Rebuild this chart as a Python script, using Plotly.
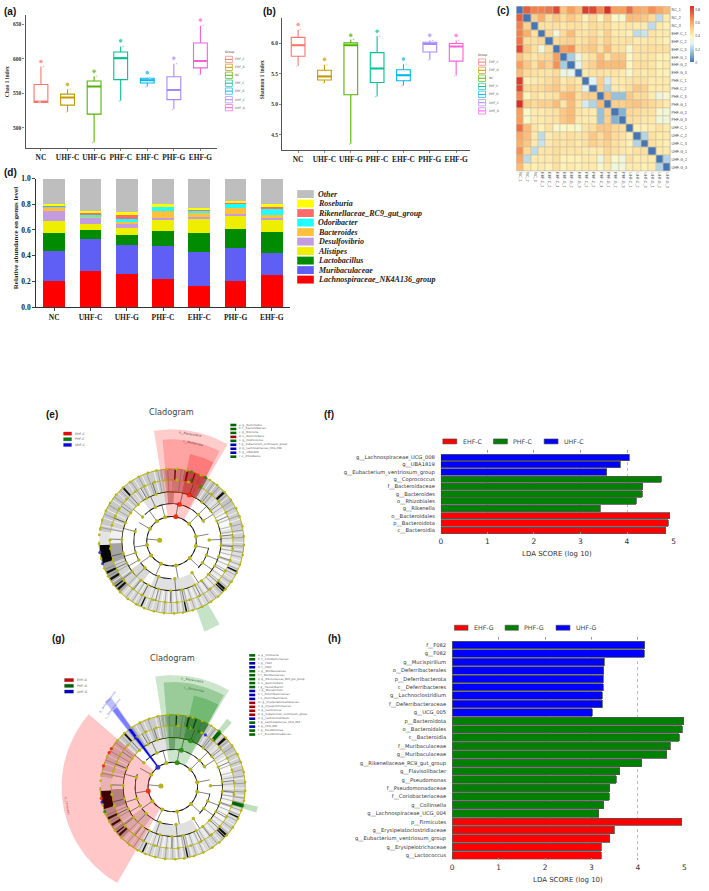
import math
import plotly.graph_objects as go

W, H = 709, 891

# ---------- data ----------
box_groups = ["NC", "UHF-C", "UHF-G", "PHF-C", "EHF-C", "PHF-G", "EHF-G"]
box_colors = ["#F8766D", "#C49A00", "#53B400", "#00C094", "#00B6EB", "#A58AFF", "#FB61D7"]
legend_groups = ["EHF_C", "EHF_G", "NC", "PHF_C", "PHF_G", "UHF_C", "UHF_G"]

chao_q1 = [537, 533, 520, 570, 565, 541, 587]
chao_med = [538, 544, 560, 601, 569, 555, 597]
chao_q3 = [563, 549, 568, 610, 572, 574, 623]
chao_low = [537, 523, 479, 539, 560, 527, 577]
chao_high = [589, 556, 575, 618, 573, 593, 648]
chao_pt = [596, 563, 582, 626, 580, 601, 656]

shan_q1 = [5.79, 5.40, 5.16, 5.36, 5.39, 5.86, 5.71]
shan_med = [5.97, 5.46, 5.97, 5.59, 5.48, 5.99, 5.95]
shan_q3 = [6.10, 5.56, 6.01, 5.85, 5.57, 6.02, 6.00]
shan_low = [5.63, 5.35, 4.35, 5.13, 5.31, 5.73, 5.47]
shan_high = [6.23, 5.65, 6.065, 6.12, 5.66, 6.05, 6.05]
shan_pt = [6.31, 5.74, 6.135, 6.20, 5.745, 6.135, 6.13]

heat_labels = ["NC_1", "NC_2", "NC_3", "EHF-C_1", "EHF-C_2", "EHF-C_3", "EHF-G_1", "EHF-G_2", "EHF-G_3",
               "PHF-C_1", "PHF-C_2", "PHF-C_3", "PHF-G_1", "PHF-G_2", "PHF-G_3",
               "UHF-C_1", "UHF-C_2", "UHF-C_3", "UHF-G_1", "UHF-G_2", "UHF-G_3"]
heat_z = [
    [0, .75, .68, .68, .70, .80, .53, .62, .55, .82, .80, .66, .85, .62, .62, .72, .60, .58, .65, .60, .55],
    [.75, 0, .50, .58, .46, .52, .46, .52, .47, .40, .47, .38, .50, .36, .36, .55, .54, .52, .47, .22, .42],
    [.68, .50, 0, .45, .45, .45, .43, .45, .45, .42, .47, .45, .47, .42, .42, .44, .42, .42, .22, .42, .40],
    [.68, .58, .45, 0, .48, .33, .47, .55, .44, .44, .47, .42, .50, .42, .42, .40, .22, .24, .44, .42, .42],
    [.70, .46, .45, .48, 0, .47, .48, .50, .44, .46, .50, .44, .50, .44, .44, .45, .42, .42, .44, .42, .40],
    [.80, .52, .45, .33, .47, 0, .62, .65, .47, .50, .52, .45, .55, .45, .45, .35, .45, .45, .46, .45, .45],
    [.53, .46, .43, .47, .48, .62, 0, .18, .32, .42, .45, .55, .44, .52, .52, .36, .44, .44, .44, .40, .40],
    [.62, .52, .45, .55, .50, .65, .18, 0, .30, .46, .50, .57, .55, .55, .55, .38, .46, .46, .44, .40, .42],
    [.55, .47, .45, .44, .44, .47, .32, .30, 0, .42, .45, .45, .44, .44, .42, .35, .44, .42, .44, .40, .40],
    [.82, .40, .42, .44, .46, .50, .42, .46, .42, 0, .28, .50, .26, .42, .42, .44, .45, .45, .42, .42, .42],
    [.80, .47, .47, .47, .50, .52, .45, .50, .45, .28, 0, .50, .20, .42, .42, .46, .52, .50, .42, .42, .42],
    [.66, .38, .45, .42, .44, .45, .55, .57, .45, .50, .50, 0, .55, .15, .15, .52, .47, .47, .42, .32, .35],
    [.85, .50, .47, .50, .50, .55, .44, .55, .44, .26, .20, .55, 0, .50, .50, .52, .53, .50, .48, .45, .42],
    [.62, .36, .42, .42, .44, .45, .52, .55, .44, .42, .42, .15, .50, 0, .12, .48, .47, .45, .45, .35, .33],
    [.62, .36, .42, .42, .44, .45, .52, .55, .42, .42, .42, .15, .50, .12, 0, .46, .45, .43, .43, .33, .33],
    [.72, .55, .44, .40, .45, .35, .36, .38, .35, .44, .46, .52, .52, .48, .46, 0, .40, .40, .42, .45, .42],
    [.60, .54, .42, .22, .42, .45, .44, .46, .44, .45, .52, .47, .53, .47, .45, .40, 0, .20, .45, .42, .42],
    [.58, .52, .42, .24, .42, .45, .44, .46, .42, .45, .50, .47, .50, .45, .43, .40, .20, 0, .45, .42, .40],
    [.65, .47, .22, .44, .44, .46, .44, .44, .44, .42, .42, .42, .48, .45, .43, .42, .45, .45, 0, .42, .42],
    [.60, .22, .42, .42, .42, .45, .40, .40, .40, .42, .42, .32, .45, .35, .33, .45, .42, .42, .42, 0, .20],
    [.55, .42, .40, .42, .40, .45, .40, .42, .40, .42, .42, .35, .42, .33, .33, .42, .42, .40, .42, .20, 0],
]

genus_names = ["Lachnospiraceae_NK4A136_group", "Muribaculaceae", "Lactobacillus", "Alistipes", "Desulfovibrio",
               "Bacteroides", "Odoribacter", "Rikenellaceae_RC9_gut_group", "Roseburia", "Other"]
genus_colors = ["#FF0000", "#5F5FF5", "#008B00", "#EEEE00", "#C39BE0", "#FFC13B", "#1FFFFF", "#FF6A6A", "#FFFF00", "#BEBEBE"]
genus_lachno = [.203, .285, .259, .223, .164, .205, .249]
genus_murib = [.230, .248, .228, .249, .264, .254, .174]
genus_lacto = [.147, .064, .072, .123, .151, .149, .164]
genus_alist = [.087, .049, .059, .084, .111, .100, .090]
genus_desulf = [.079, .044, .033, .016, .013, .018, .026]
genus_bacter = [.021, .018, .013, .051, .030, .046, .012]
genus_odori = [.020, .005, .023, .039, .026, .036, .054]
genus_riken = [.005, .028, .031, .005, .005, .007, .010]
genus_rose = [.013, .010, .018, .010, .005, .008, .026]
genus_other = [.195, .249, .264, .200, .231, .177, .195]
genus_values = [genus_lachno, genus_murib, genus_lacto, genus_alist, genus_desulf,
                genus_bacter, genus_odori, genus_riken, genus_rose, genus_other]

lda_f_names = ["g__Lachnospiraceae_UCG_008", "g__UBA1819", "g__Eubacterium_ventriosum_group", "g__Coprococcus",
               "f__Bacteroidaceae", "g__Bacteroides", "o__Rhizobiales", "g__Rikenella",
               "o__Bacteroidales", "p__Bacteroidota", "c__Bacteroidia"]
lda_f_values = [4.05, 3.85, 3.56, 4.74, 4.34, 4.33, 4.20, 3.43, 4.92, 4.89, 4.83]
lda_f_groups = ["U", "U", "U", "P", "P", "P", "P", "P", "E", "E", "E"]
lda_h_names = ["f__F082", "g__F082", "g__Mucispirillum", "o__Deferribacterales", "p__Deferribacterota",
               "c__Deferribacteres", "g__Lachnoclostridium", "f__Deferribacteraceae", "g__UCG_005",
               "p__Bacteroidota", "o__Bacteroidales", "c__Bacteroidia", "f__Muribaculaceae", "g__Muribaculaceae",
               "g__Rikenellaceae_RC9_gut_group", "g__Flavisolibacter", "g__Pseudomonas", "f__Pseudomonadaceae",
               "f__Coriobacteriaceae", "g__Collinsella", "g__Lachnospiraceae_UCG_004", "p__Firmicutes",
               "g__Erysipelatoclostridiaceae", "g__Eubacterium_ventriosum_group", "g__Erysipelotrichaceae", "g__Lactococcus"]
lda_h_values = [4.145, 4.14, 3.27, 3.26, 3.25, 3.25, 3.23, 3.23, 3.02, 4.99, 4.95, 4.89, 4.69, 4.62, 4.08,
                3.61, 3.53, 3.39, 3.38, 3.26, 3.16, 4.94, 3.49, 3.39, 3.21, 3.21]
lda_h_groups = ["U"] * 9 + ["P"] * 12 + ["E"] * 5
lda_colors = {"U": "#0000FF", "P": "#008000", "E": "#FF0000"}

clad_e_keys = ["a: g__Bacteroides", "b: f__Bacteroidaceae", "c: g__Rikenella", "d: o__Bacteroidales", "e: g__Coprococcus",
               "f: g__Eubacterium_ventriosum_group", "g: g__Lachnospiraceae_UCG_008", "h: g__UBA1819", "i: o__Rhizobiales"]
clad_e_key_colors = ["#006400", "#006400", "#006400", "#A00000", "#006400", "#0000B0", "#0000B0", "#0000B0", "#006400"]
clad_g_keys = ["a: g__Collinsella", "b: f__Coriobacteriaceae", "c: g__F082", "d: f__F082", "e: g__Muribaculaceae",
               "f: f__Muribaculaceae", "g: g__Rikenellaceae_RC9_gut_group", "h: o__Bacteroidales", "i: g__Flavisolibacter",
               "j: g__Mucispirillum", "k: f__Deferribacteraceae", "l: o__Deferribacterales", "m: g__Erysipelatoclostridiaceae",
               "n: g__Erysipelotrichaceae", "o: g__Lactococcus", "p: g__Eubacterium_ventriosum_group", "q: g__Lachnoclostridium",
               "r: g__Lachnospiraceae_UCG_004", "s: g__UCG_005", "t: g__Pseudomonas", "u: f__Pseudomonadaceae"]
clad_g_key_colors = ["#006400", "#006400", "#0000B0", "#0000B0", "#006400", "#006400", "#006400", "#006400", "#006400",
                     "#0000B0", "#0000B0", "#0000B0", "#A00000", "#A00000", "#A00000", "#A00000", "#0000B0", "#006400",
                     "#0000B0", "#006400", "#006400"]

# shared taxonomy tree, angle in degrees clockwise from the top, radius by rank
rank_kingdom, rank_phylum, rank_class, rank_order, rank_family, rank_genus = 12, 25, 38, 50, 62, 73
phylum_theta = [10, 45, 79, 101, 133, 170, 205, 235, 261, 300, 324, 345]
class_theta = [13, 45, 57, 88, 112, 125, 147, 175, 200, 225, 240, 252, 285, 310, 335]
order_theta = [-42, -30, -18, 21, 38, 52, 66, 84, 95, 108, 120, 132, 143, 152, 168, 181, 195, 208, 218, 232, 244, 256, 272, 292, 305]
family_theta = [-75, -66, -58, -47, -36, -26, -16, -6, 5, 16, 28, 40, 50, 62, 74, 86, 97, 108, 119, 130, 141, 153, 163, 175, 186,
                197, 209, 219, 231, 242, 252, 263, 271]
genus_theta = [-80, -73, -65, -58, -50, -42, -35, -27, -19, -12, -4, 4, 12, 16, 24, 32, 39, 47, 55, 63, 70, 78, 86, 93, 101, 109,
               116, 124, 132, 140, 147, 155, 163, 171, 178, 186, 194, 202, 209, 217, 225, 233, 241, 248, 256, 261, 268, 275]
arc_rank = [25, 38, 38, 38, 38, 50, 50, 50, 50]
arc_start = [0, -45, 100, 180, 240, -40, 65, 150, 225]
arc_span = [360, 105, 35, 55, 50, 95, 65, 65, 75]
arc_weight = [1.0, .9, .9, .9, .9, .7, .7, .7, .7]
family_ring_start = [-82]
family_ring_span = [352]

band_class_start = [-35, -5, 150, 215]
band_class_span = [30, 8, 55, 20]
band_class_shade = ["#E2E2E2", "#BBBBBB", "#E0E0E0", "#D8D8D8"]
band_family_start = [-80, -40, -20, 0, 12, 30, 46, 60, 78, 100, 125, 145, 175, 200, 222, 250, 268]
band_family_span = [40, 20, 20, 12, 18, 16, 14, 18, 22, 25, 20, 30, 25, 22, 28, 18, 12]
band_family_shade = ["#D2D2D2", "#D0D0D0", "#CCCCCC", "#B4B4B4", "#9C9C9C", "#CCCCCC", "#E2E2E2", "#F6F6F6", "#E4E4E4",
                     "#F4F4F4", "#E6E6E6", "#E2E2E2", "#E4E4E4", "#DCDCDC", "#D4D4D4", "#A4A4A4", "#F0F0F0"]
band_genus_start = [-82, -45, -10, 10, 30, 60, 100, 120, 150, 180, 225, 252, 267]
band_genus_span = [37, 35, 20, 20, 30, 40, 20, 30, 30, 45, 27, 15, 11]
band_genus_shade = ["#C8C8C8", "#CCCCCC", "#B8B8B8", "#8C8C8C", "#C4C4C4", "#D0D0D0", "#DCDCDC", "#D4D4D4", "#DADADA",
                    "#D6D6D6", "#A8A8A8", "#050505", "#E4E4E4"]
dark_leaf_theta = [-42, 3, 13, 19, 47, 115, 132, 134, 168, 205, 228, 231, 238, 244]
dark_leaf_width = [1.5, 1.2, 1.5, 1.2, 2, 1.2, 2, 1.2, 1.2, 1.2, 2, 1.2, 2, 2]
pale_leaf_theta = [-77, -71, -64, -55, -48, -37, -31, -24, -14, -7, 33, 38, 44, 52, 66, 72, 83, 91, 97, 106, 111, 122,
                   128, 139, 146, 153, 158, 164, 172, 177, 183, 189, 196, 202, 211, 216, 222, 235]
thin_leaf_theta = [-79, -68, -60, -52, -45, -34, -27, -20, -11, -3, 8, 24, 29, 36, 41, 50, 56, 62, 69, 76, 81, 87, 94, 99, 103,
                   109, 113, 118, 125, 130, 136, 142, 149, 155, 161, 166, 170, 175, 180, 186, 192, 199, 208, 213, 219, 225, 233, 241, 247]

e_node_red = [[25, 10], [38, 12], [50, 21]]
e_node_green = [[62, 28], [73, 28], [73, 16], [65, 18]]
e_node_blue = [[73, 261], [73, 252]]
g_node_red = [[25, 261], [73, 302], [73, 298.5], [73, 287], [73, 261]]
g_node_green = [[25, 10], [38, 13], [50, 21], [62, 25], [62, 15], [73, 40], [73, 105], [73, 250]]
g_node_blue = [[25, 323], [62, 323], [73, 258], [62, 32]]

e_fan_start = [-9, -5, 12, 150]
e_fan_span = [39, 33, 16, 10]
e_fan_inner = [25, 38, 50, 73]
e_fan_outer = [113, 103, 90, 97]
e_fan_color = ["rgba(255,0,0,.2)", "rgba(255,0,0,.2)", "rgba(255,0,0,.25)", "rgba(0,128,0,.22)"]
g_fan_start = [-9, -5, 13, 210, 321.5, 322, 322.5, 103, 38.5, 103.5, 39]
g_fan_span = [39, 34, 16, 101, 4, 3, 2, 4, 4, 3, 3]
g_fan_inner = [25, 38, 50, 24, 25, 25, 25, 62, 62, 62, 62]
g_fan_outer = [113, 106, 95, 112, 110, 98, 73, 88, 88, 73, 73]
g_fan_color = ["rgba(0,128,0,.2)", "rgba(0,128,0,.25)", "rgba(0,128,0,.25)", "rgba(255,0,0,.22)", "rgba(0,0,255,.25)",
               "rgba(0,0,255,.35)", "#0000E0", "rgba(0,128,0,.25)", "rgba(0,128,0,.25)", "#006400", "#006400"]


# ---------- helpers ----------
def xd(a, b):
    return [a / W, b / W]


def yd(top, bot):
    return [1 - bot / H, 1 - top / H]


annots, shapes = [], []


def txt(x, y, s, size, color="#333333", family="DejaVu Sans", weight=400, style="normal", angle=0, anchor="left"):
    annots.append(dict(x=x / W, y=1 - y / H, xref="paper", yref="paper", text=s, showarrow=False, xanchor=anchor,
                       yanchor="middle", textangle=angle, borderpad=0,
                       font=dict(size=size, color=color, family=family, weight=weight, style=style)))


def rect(x0, y0, x1, y1, fill, line="rgba(0,0,0,0)", lw=0):
    shapes.append(dict(type="rect", xref="paper", yref="paper", x0=x0 / W, x1=x1 / W, y0=1 - y0 / H, y1=1 - y1 / H,
                       fillcolor=fill, line=dict(color=line, width=lw)))


def seg(x0, y0, x1, y1, color, lw):
    shapes.append(dict(type="line", xref="paper", yref="paper", x0=x0 / W, x1=x1 / W, y0=1 - y0 / H, y1=1 - y1 / H,
                       line=dict(color=color, width=lw)))


SERIF = "Liberation Serif"
fig = go.Figure()
layout = {}
serif_tick = dict(family=SERIF, size=7.4, color="#222222", weight=700)


def box_panel(n, dom_x, dom_y, xrange, yrange, ytick, q1, med, q3, low, high, pt):
    xa, ya = f"x{n}", f"y{n}"
    for i, g in enumerate(box_groups):
        c = box_colors[i]
        fig.add_trace(go.Box(x=[i], q1=[q1[i]], median=[med[i]], q3=[q3[i]], lowerfence=[low[i]], upperfence=[high[i]],
                             width=.52, whiskerwidth=0, fillcolor="white", line=dict(color=c, width=1.1),
                             boxpoints=False, xaxis=xa, yaxis=ya, showlegend=False, name=g))
        fig.add_trace(go.Scatter(x=[i - .26, i + .26], y=[med[i], med[i]], mode="lines", line=dict(color=c, width=2),
                                 xaxis=xa, yaxis=ya, showlegend=False, hoverinfo="skip"))
        fig.add_trace(go.Scatter(x=[i, i + .1, i - .05], y=[pt[i], high[i], low[i]], mode="markers",
                                 marker=dict(color=c, size=[4.5, 2, 2], opacity=.7),
                                 xaxis=xa, yaxis=ya, showlegend=False, hoverinfo="skip"))
    layout[f"xaxis{n}"] = dict(domain=xd(*dom_x), range=xrange, anchor=ya, tickvals=list(range(7)), ticktext=box_groups,
                               showgrid=False, zeroline=False, showline=True, linecolor="#555555", linewidth=1.2, tickangle=0,
                               ticks="outside", ticklen=2, tickcolor="#888888", tickfont=serif_tick)
    layout[f"yaxis{n}"] = dict(domain=yd(*dom_y), range=yrange, anchor=xa, tickvals=ytick, showgrid=False, zeroline=False,
                               showline=True, linecolor="#555555", linewidth=1.2, ticks="outside", ticklen=2,
                               tickcolor="#888888", tickfont=dict(family=SERIF, size=5.5, color="#333333", weight=700),
                               tickformat=".1f" if ytick[0] < 100 else "d")


box_panel(1, (23.7, 216.7), (10.7, 145.3), [-.58, 6.63], [471.3, 664], [500, 550, 600, 650],
          chao_q1, chao_med, chao_q3, chao_low, chao_high, chao_pt)
box_panel(2, (282.3, 471.7), (14, 147.7), [-.6, 6.54], [4.25, 6.42], [4.5, 5.0, 5.5, 6.0],
          shan_q1, shan_med, shan_q3, shan_low, shan_high, shan_pt)
txt(5, 78, "Chao 1 index", 5.5, family=SERIF, weight=700, angle=-90, anchor="center")
txt(262, 77, "Shannon 1 index", 5.5, family=SERIF, weight=700, angle=-90, anchor="center")

for (lx, ty, rows) in ((225, 48.7, [56, 64, 72, 80, 88, 96.7, 104.7]), (480, 51.7, [58.7, 67, 75, 83.3, 91.3, 99.7, 108])):
    txt(lx + 4, ty, "Group", 3, anchor="center")
    for yy, lab, c in zip(rows, legend_groups, box_colors):
        rect(lx, yy - 3.2, lx + 7, yy + 3.2, "rgba(255,255,255,0)", c, .7)
        seg(lx, yy, lx + 7, yy, c, 1)
        txt(lx + 9, yy, lab, 3, color="#555555")

# ---------- heatmap (c) ----------
fig.add_trace(go.Heatmap(z=heat_z, x=heat_labels, y=heat_labels, xaxis="x3", yaxis="y3", zmin=0, zmax=.85, xgap=.7, ygap=.7,
                         colorscale=[[0, "#4575B4"], [.17, "#91BFDB"], [.33, "#E0F3F8"], [.44, "#FFF8C0"],
                                     [.55, "#FEDC9A"], [.72, "#FCA25E"], [1, "#D73027"]],
                         colorbar=dict(thickness=4, lenmode="pixels", len=56, x=693 / W, xanchor="left", y=1 - 2.5 / H,
                                       yanchor="top", tickvals=[0, .2, .4, .6, .8], ticks="", outlinewidth=0,
                                       tickfont=dict(size=3.5, color="#444444"), xpad=0, ypad=0)))
small = dict(size=3.6, color="#444444", family="Liberation Sans")
layout["xaxis3"] = dict(domain=xd(518, 673.3), anchor="y3", tickangle=90, tickfont=small, ticks="", showgrid=False,
                        tickmode="array", tickvals=heat_labels, ticktext=heat_labels)
layout["yaxis3"] = dict(domain=yd(2.3, 169), anchor="x3", autorange="reversed", side="right", tickfont=small, ticks="",
                        showgrid=False, tickmode="array", tickvals=heat_labels, ticktext=heat_labels)
shapes.append(dict(type="rect", xref="paper", yref="paper", x0=518 / W, x1=673.3 / W, y0=1 - 169 / H, y1=1 - 2.3 / H,
                   fillcolor="#C2BCA6", line=dict(width=0), layer="below"))

# ---------- stacked bars (d) ----------
for name, vals, c in zip(genus_names, genus_values, genus_colors):
    fig.add_trace(go.Bar(x=list(range(7)), y=vals, name=name, marker=dict(color=c, line=dict(width=0)), width=.6,
                         xaxis="x4", yaxis="y4", showlegend=False))
layout["xaxis4"] = dict(domain=xd(34, 290), range=[-.51, 6.5], anchor="y4", tickvals=list(range(7)), ticktext=box_groups,
                        showgrid=False, zeroline=False, showline=True, linecolor="#333333", linewidth=1.1, ticks="outside",
                        ticklen=2.5, tickfont=dict(family=SERIF, size=7.5, color="#222222", weight=700))
layout["yaxis4"] = dict(domain=yd(176.3, 306.3), range=[0, 1], anchor="x4", tickvals=[0, .2, .4, .6, .8, 1], tickformat=".1f",
                        showgrid=False, zeroline=False, showline=True, linecolor="#333333", linewidth=1.1, ticks="outside",
                        ticklen=2.5, tickfont=dict(family=SERIF, size=7.5, color="#222222", weight=700))
txt(14, 236.7, "Relative abundance on genus level", 7, family=SERIF, weight=700, angle=-90, anchor="center", color="#222222")
for i, (name, c) in enumerate(zip(reversed(genus_names), reversed(genus_colors))):
    yy = 192 + i * 9.6
    rect(297.3, yy - 4, 314, yy + 4, c)
    txt(317, yy, name, 8, family=SERIF, weight=700, style="italic", color="#222222")


# ---------- LDA (f, h) ----------
def lda_panel(n, dom_x, dom_y, yrange, names, vals, groups, leg, label_size):
    xa, ya = f"x{n}", f"y{n}"
    fig.add_trace(go.Bar(y=names, x=vals, orientation="h", xaxis=xa, yaxis=ya, showlegend=False, width=.88,
                         marker=dict(color=[lda_colors[g] for g in groups], line=dict(color="#555555", width=.8))))
    layout[f"xaxis{n}"] = dict(domain=xd(*dom_x), range=[0, 5], anchor=ya, tickvals=[0, 1, 2, 3, 4, 5], showgrid=True,
                               gridcolor="#BBBBBB", griddash="dot", gridwidth=.7, zeroline=False, showline=True,
                               linecolor="rgba(0,0,0,0)", mirror="ticks", ticks="inside", ticklen=2, tickcolor="#999999",
                               tickfont=dict(size=7.5, color="#333333", family="DejaVu Sans"))
    layout[f"yaxis{n}"] = dict(domain=yd(*dom_y), range=yrange, anchor=xa, type="category", categoryorder="array",
                               categoryarray=names, tickmode="array", tickvals=names, ticktext=names, showgrid=False, zeroline=False,
                               showline=False, ticks="", ticklabelstandoff=5,
                               tickfont=dict(size=label_size, color="#333333", family="DejaVu Sans"))
    for x0, x1, tx, lab, c in leg:
        rect(x0, dom_y[0] - 11.3 if n == 5 else dom_y[0] - 11.7, x1, dom_y[0] - 6.3 if n == 5 else dom_y[0] - 6.7, c, "#444444", .6)
        txt(tx, dom_y[0] - 8.8 if n == 5 else dom_y[0] - 9.2, lab, 6.3, color="#444444")


lda_panel(5, (442, 676.3), (450.7, 535.3), [10.49, -.99], lda_f_names, lda_f_values, lda_f_groups,
          [(444, 458, 463, "EHF-C", "#FF0000"), (495, 509, 513.5, "PHF-C", "#008000"), (546, 560, 564.5, "UHF-C", "#0000FF")], 5.2)
lda_panel(6, (453.3, 687.3), (639.3, 864.3), [25.5, -.99], lda_h_names, lda_h_values, lda_h_groups,
          [(455.7, 469.3, 474, "EHF-G", "#FF0000"), (506.7, 520, 525, "PHF-G", "#008000"), (558, 572, 576.7, "UHF-G", "#0000FF")], 5.2)
txt(559, 555.7, "LDA SCORE (log 10)", 7, color="#333333", anchor="center")
txt(570, 885, "LDA SCORE (log 10)", 7, color="#333333", anchor="center")


# ---------- cladograms (e, g) ----------
def to_xy(r, theta):
    t = math.radians(theta)
    return r * math.sin(t), r * math.cos(t)


def wedge_outline(start, span, inner, outer):
    steps = max(1, int(abs(span) / 2))
    angles = [start + span * k / steps for k in range(steps + 1)]
    pts = [to_xy(outer, a) for a in angles] + [to_xy(inner, a) for a in reversed(angles)]
    return [p[0] for p in pts] + [pts[0][0]], [p[1] for p in pts] + [pts[0][1]]


def cladogram(n, cx, cy, fan, red, green, blue):
    xa, ya = f"x{n}", f"y{n}"
    R = 115
    bottom = min(cy + R, H)
    layout[f"xaxis{n}"] = dict(domain=xd(cx - R, cx + R), range=[-R, R], anchor=ya, visible=False, fixedrange=True)
    layout[f"yaxis{n}"] = dict(domain=yd(cy - R, bottom), range=[cy - bottom, R], anchor=xa, visible=False, fixedrange=True)

    def wedges(starts, spans, inner, outer, colors):
        for s, w, i, o, c in zip(starts, spans, inner, outer, colors):
            xs, ys = wedge_outline(s, w, i, o)
            fig.add_trace(go.Scatter(x=xs, y=ys, mode="lines", fill="toself", fillcolor=c, line=dict(width=0), xaxis=xa,
                                     yaxis=ya, showlegend=False, hoverinfo="skip"))

    def spokes(thetas, r0, r1, color, lw):
        xs, ys = [], []
        for t in thetas:
            a, b = to_xy(r0, t), to_xy(r1, t)
            xs += [a[0], b[0], None]
            ys += [a[1], b[1], None]
        fig.add_trace(go.Scatter(x=xs, y=ys, mode="lines", line=dict(color=color, width=lw), xaxis=xa, yaxis=ya,
                                 showlegend=False, hoverinfo="skip"))

    def dots(rs, thetas, color, sizes):
        pts = [to_xy(r, t) for r, t in zip(rs, thetas)]
        fig.add_trace(go.Scatter(x=[p[0] for p in pts], y=[p[1] for p in pts], mode="markers", xaxis=xa, yaxis=ya,
                                 marker=dict(color=color, size=sizes, line=dict(width=0)), showlegend=False, hoverinfo="skip"))

    n1, n2, n3 = len(band_class_start), len(band_family_start), len(band_genus_start)
    wedges(band_class_start, band_class_span, [rank_class] * n1, [rank_order] * n1, band_class_shade)
    wedges(band_family_start, band_family_span, [rank_order] * n2, [rank_family] * n2, band_family_shade)
    wedges(band_genus_start, band_genus_span, [rank_family] * n3, [rank_genus] * n3, band_genus_shade)
    nd = len(dark_leaf_theta)
    wedges([t - w / 2 for t, w in zip(dark_leaf_theta, dark_leaf_width)], dark_leaf_width, [rank_family] * nd, [rank_genus] * nd,
           ["#111111"] * nd)
    spokes(pale_leaf_theta, rank_order, rank_genus, "#FFFFFF", .7)
    spokes(thin_leaf_theta, rank_order, rank_genus, "#555555", .4)
    # rank rings
    wedges(family_ring_start * 3, family_ring_span * 3, [rank_order - .4, rank_family - .4, rank_genus - .5],
           [rank_order + .4, rank_family + .4, rank_genus + .5], ["#B5B515"] * 3)
    # branch arcs
    wedges(arc_start, arc_span, [r - w / 2 for r, w in zip(arc_rank, arc_weight)],
           [r + w / 2 for r, w in zip(arc_rank, arc_weight)], ["#111111"] * len(arc_rank))
    # highlight fans
    wedges(fan[0], fan[1], fan[2], fan[3], fan[4])

    # stems and nodes
    spokes(phylum_theta, rank_phylum, rank_class, "#333333", .6)
    spokes(class_theta, rank_class, rank_order, "#333333", .6)
    spokes(order_theta, rank_order, rank_family, "#333333", .6)
    spokes([275], rank_kingdom, rank_phylum, "#333333", .6)
    for thetas, rk, sz in ((genus_theta, rank_genus, 2.6), (family_theta, rank_family, 2.8), (order_theta, rank_order, 3),
                           (class_theta, rank_class, 3.5), (phylum_theta, rank_phylum, 4), ([275], rank_kingdom, 5)):
        dots([rk] * len(thetas), thetas, "#B5B515", sz)
    for pts, c in ((red, "#FF0000"), (green, "#008000"), (blue, "#0000FF")):
        dots([p[0] for p in pts], [p[1] for p in pts], c, [5 if p[0] < 60 else 3.2 for p in pts])


cladogram(7, 170.7, 542.7, (e_fan_start, e_fan_span, e_fan_inner, e_fan_outer, e_fan_color),
          e_node_red, e_node_green, e_node_blue)
cladogram(8, 172, 791, (g_fan_start, g_fan_span, g_fan_inner, g_fan_outer, g_fan_color),
          g_node_red, g_node_green, g_node_blue)

txt(171, 411.7, "Cladogram", 8.2, color="#444444", anchor="center")
txt(172, 660.7, "Cladogram", 8.2, color="#444444", anchor="center")
for i, (lab, c) in enumerate(zip(["EHF-C", "PHF-C", "UHF-C"], ["#FF0000", "#008000", "#0000FF"])):
    yy = 434 + i * 5.7
    rect(62, yy - 1.6, 70, yy + 1.6, c, "#333333", .3)
    txt(73, yy, lab, 3.2, color="#555555")
for i, (lab, c) in enumerate(zip(["EHF-G", "PHF-G", "UHF-G"], ["#D00000", "#006400", "#0000D0"])):
    yy = 683 + i * 5.8
    rect(63, yy - 1.6, 72, yy + 1.6, c, "#333333", .3)
    txt(74.5, yy, lab, 3.2, color="#555555")
for i, (lab, c) in enumerate(zip(clad_e_keys, clad_e_key_colors)):
    yy = 425.3 + i * 4
    rect(230, yy - 1.3, 236, yy + 1.3, c)
    txt(238, yy, lab, 2.6, color="#555555")
for i, (lab, c) in enumerate(zip(clad_g_keys, clad_g_key_colors)):
    yy = 658 + i * 4
    rect(249, yy - 1.3, 255, yy + 1.3, c)
    txt(257, yy, lab, 2.6, color="#555555")
txt(189.7, 434.3, "p__Bacteroidota", 2.8, color="#663333", angle=10, anchor="center")
txt(192.7, 443.3, "c__Bacteroidia", 2.8, color="#663333", angle=12, anchor="center")
txt(192, 683, "p__Bacteroidota", 2.8, color="#336633", angle=10, anchor="center")
txt(193, 692, "c__Bacteroidia", 2.8, color="#336633", angle=12, anchor="center")
txt(107, 705, "p__Deferribacterota", 2.6, color="#5555AA", angle=-53, anchor="center")
txt(112, 712, "c__Deferribacteres", 2.6, color="#5555AA", angle=-53, anchor="center")
txt(65, 810, "p__Firmicutes", 2.6, color="#884444", angle=80, anchor="center")

for s, x, y in (("(a)", 8, 8), ("(b)", 269, 8), ("(c)", 505, 7), ("(d)", 9, 170), ("(e)", 50, 415), ("(f)", 329, 415),
                ("(g)", 57, 641), ("(h)", 335, 641)):
    txt(x, y, s, 10, color="#111111", family="Liberation Sans", weight=700, anchor="center")

fig.update_layout(width=W, height=H, margin=dict(l=0, r=0, t=0, b=0, pad=0), paper_bgcolor="white", plot_bgcolor="rgba(0,0,0,0)",
                  barmode="stack", boxmode="overlay", showlegend=False, annotations=annots, shapes=shapes, **layout)
fig.write_html("out.html", config=dict(displayModeBar=False),
               post_script="document.body.style.margin='0';document.documentElement.style.overflow='hidden';")
